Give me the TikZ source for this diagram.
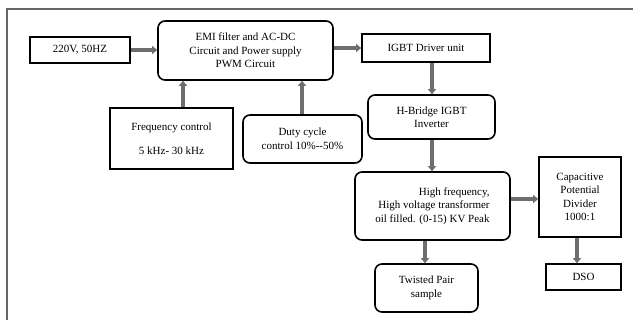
\documentclass[tikz,border=0pt]{standalone}
\usepackage{fontspec}
\setmainfont{Liberation Serif}
\usetikzlibrary{arrows.meta}
\definecolor{shaft}{HTML}{6E6E6E}
\tikzset{
  box/.style={draw=black, line width=1.6pt, inner sep=2pt, align=center, font=\fontsize{11}{13.5}\selectfont},
  rbox/.style={box, rounded corners=7pt},
  arr/.style={draw=shaft, line width=3.6pt, -{Triangle[length=5pt,width=8pt]}},
  frame/.style={draw=gray!80!black, line width=1.8pt}
}
\begin{document}
\begin{tikzpicture}[x=1pt,y=-1pt]
\useasboundingbox (0,0) rectangle (633,320);
\draw[frame] (7,321) -- (7,9) -- (634,9);

\node[box, minimum width=100pt, minimum height=26pt] (v220) at (80,50) {220V, 50HZ};
\node[rbox, minimum width=175pt, minimum height=59pt] (emi) at (245.5,50.5) {EMI filter and AC-DC\\Circuit and Power supply\\PWM Circuit};
\node[box, minimum width=128pt, minimum height=28pt] (igbt) at (426,48) {IGBT Driver unit};
\node[rbox, minimum width=127pt, minimum height=44pt] (hb) at (431.5,117) {H-Bridge IGBT\\Inverter};
\node[box, minimum width=123pt, minimum height=61pt] (freq) at (171.5,138.5) {Frequency control\\[11pt]5 kHz- 30 kHz};
\node[rbox, minimum width=119pt, minimum height=48pt] (duty) at (302.5,139) {Duty cycle\\control 10\%-{}-50\%};
\node[rbox, minimum width=155pt, minimum height=68pt, align=right] (hv) at (432.5,206) {High frequency,\\High voltage transformer\\oil filled. (0-15) KV Peak};
\node[box, minimum width=82pt, minimum height=80pt] (cap) at (580,197) {Capacitive\\Potential\\Divider\\1000:1};
\node[box, minimum width=75pt, minimum height=26pt] (dso) at (583.5,277) {DSO};
\node[rbox, minimum width=103pt, minimum height=48pt] (tp) at (426.5,288) {Twisted Pair\\sample};

\coordinate (xf) at (183,0);
\coordinate (xd) at (302,0);
\coordinate (xh) at (432,0);
\coordinate (xt) at (425,0);
\coordinate (xc) at (577,0);
\coordinate (yc) at (0,199);

\draw[arr] (v220.east) -- (v220.east -| emi.west);
\draw[arr] (emi.east |- igbt.west) -- (igbt.west);
\draw[arr] (freq.north -| xf) -- (emi.south -| xf);
\draw[arr] (duty.north -| xd) -- (emi.south -| xd);
\draw[arr] (igbt.south -| xh) -- (hb.north -| xh);
\draw[arr] (hb.south -| xh) -- (hv.north -| xh);
\draw[arr] (hv.east |- yc) -- (cap.west |- yc);
\draw[arr] (hv.south -| xt) -- (tp.north -| xt);
\draw[arr] (cap.south -| xc) -- (dso.north -| xc);
\end{tikzpicture}
\end{document}
